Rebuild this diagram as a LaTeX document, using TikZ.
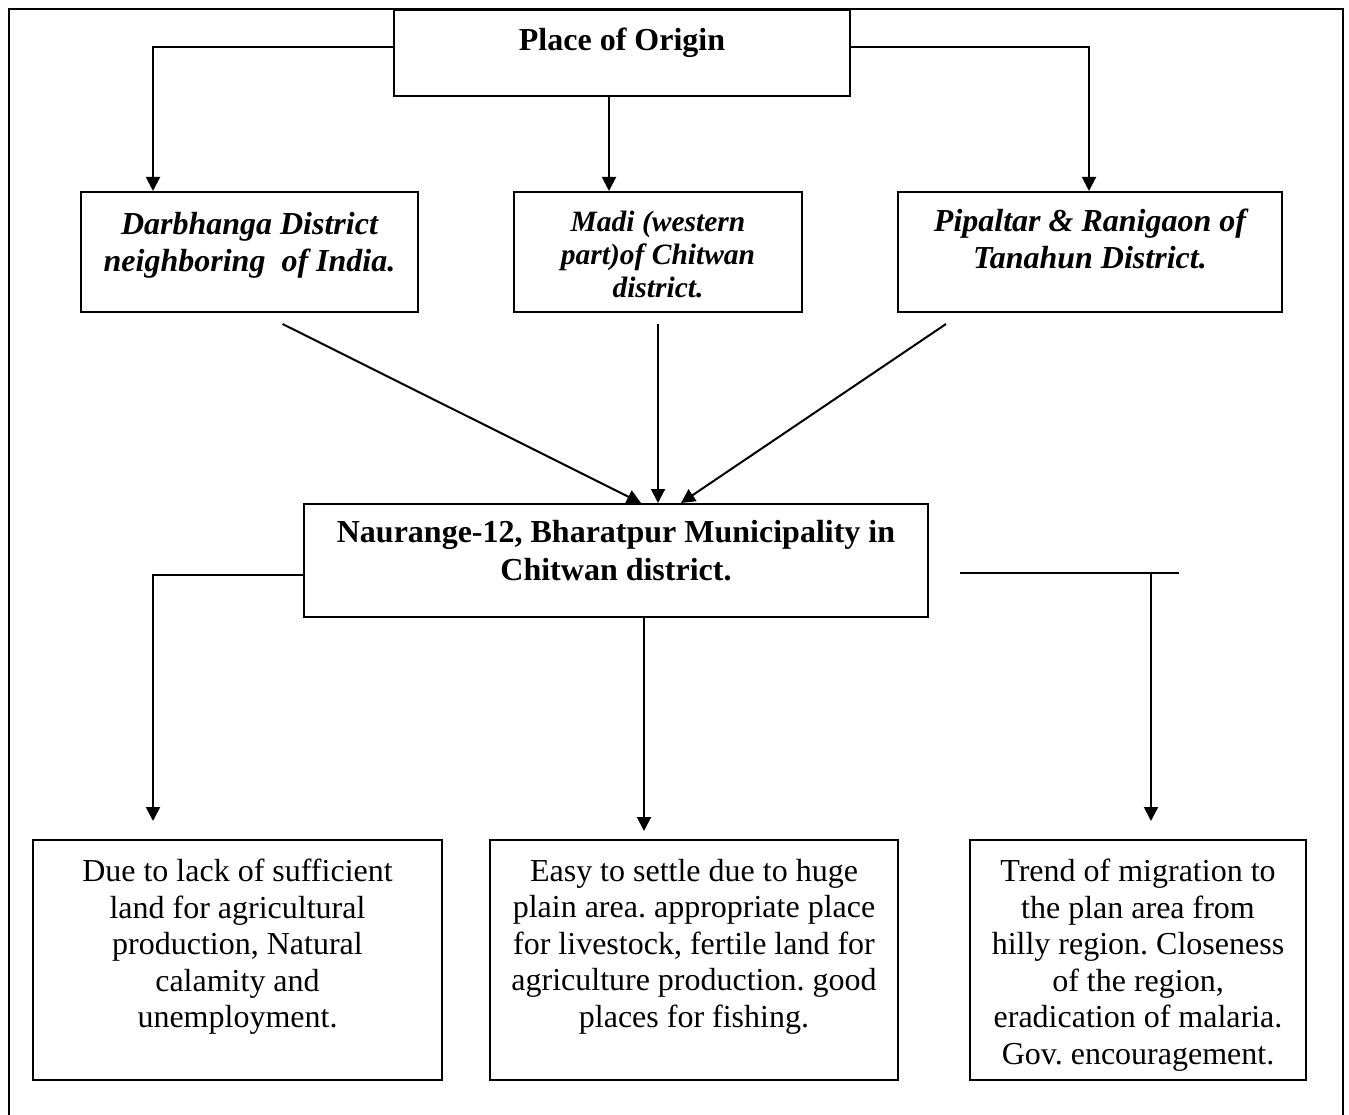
\documentclass[tikz,border=0pt]{standalone}
\usepackage{fontspec}
\setmainfont{Liberation Serif}
\usetikzlibrary{positioning,arrows.meta}
\frenchspacing

\tikzset{
  box/.style={draw, line width=2pt, inner sep=0pt, anchor=north west},
  link/.style={line width=2pt},
  arr/.style={line width=2pt, -{Triangle[width=14pt,length=14pt]}},
  ttl/.style={align=center, inner sep=0pt, font=\fontsize{32}{38}\selectfont\bfseries},
  place/.style={align=center, inner sep=0pt, font=\fontsize{32}{37}\selectfont\bfseries\itshape},
  reason/.style={align=center, inner sep=0pt, font=\fontsize{32}{36.5}\selectfont},
}

\begin{document}
\begin{tikzpicture}[x=1pt,y=-1pt]
\useasboundingbox (0,0) rectangle (1349,1115);
% frame, open at the bottom
\draw[link] (9,1115) -- (9,9) -- (1343,9) -- (1343,1115);

% boxes
\node[box, minimum width=456pt, minimum height=86pt] (org) at (393,9) {};
\node[box, minimum width=337pt, minimum height=120pt] (dar) at (80,191) {};
\node[box, minimum width=288pt, minimum height=120pt] (mad) at (513,191) {};
\node[box, minimum width=384pt, minimum height=120pt] (pip) at (897,191) {};
\node[box, minimum width=624pt, minimum height=113pt] (nau) at (303,503) {};
\node[box, minimum width=409pt, minimum height=240pt] (due) at (32,839) {};
\node[box, minimum width=408pt, minimum height=240pt] (easy) at (489,839) {};
\node[box, minimum width=336pt, minimum height=240pt] (trend) at (969,839) {};

% texts
\node[ttl, below=19pt of org.north] (orgtxt) {Place of Origin};
\node[place, below=21pt of dar.north] (dartxt) {Darbhanga District\\neighboring~ of India.};
\node[place, below=20pt of mad.north, font=\fontsize{29.5}{33}\selectfont\bfseries\itshape] (madtxt)
  {Madi (western\\part)of Chitwan\\district.};
\node[place, below=18pt of pip.north] (piptxt) {Pipaltar \& Ranigaon of\\Tanahun District.};
\node[ttl, below=17pt of nau.north] (nautxt) {Naurange-12, Bharatpur Municipality in\\Chitwan district.};
\node[reason, below=20pt of due.north] (duetxt)
  {Due to lack of sufficient\\land for agricultural\\production, Natural\\calamity and\\unemployment.};
\node[reason, below=20pt of easy.north] (easytxt)
  {Easy to settle due to huge\\plain area. appropriate place\\for livestock, fertile land for\\agriculture production. good\\places for fishing.};
\node[reason, below=20pt of trend.north] (trendtxt)
  {Trend of migration to\\the plan area from\\hilly region. Closeness\\of the region,\\eradication of malaria.\\Gov. encouragement.};

% from the place of origin
\coordinate (kl) at (153,47);
\coordinate (km) at (609,95);
\coordinate (kr) at (1089,47);
\draw[arr] (org.west |- kl) -| (dar.north -| kl);
\draw[arr] (org.south -| km) -- (mad.north -| km);
\draw[arr] (org.east |- kr) -| (pip.north -| kr);

% into Naurange
\draw[arr] ([xshift=33pt,yshift=-11pt]dar.south) -- ([xshift=25pt]nau.north);
\draw[arr] ([yshift=-11pt]mad.south) -- (nau.north -| mad.south);
\draw[arr] ([xshift=-144pt,yshift=-11pt]pip.south) -- ([xshift=65pt]nau.north);

% reasons
\coordinate (jl) at (153,575);
\coordinate (jltip) at (153,821);
\coordinate (jm) at (644,831);
\coordinate (hr1) at (960,573);
\coordinate (hr2) at (1179,573);
\coordinate (jr) at (1151,821);
\draw[arr] (nau.west |- jl) -| (jltip);
\draw[arr] (nau.south -| jm) -- (jm);
\draw[link] (hr1) -- (hr2);
\draw[arr] (jr |- hr1) -- (jr);
\end{tikzpicture}
\end{document}
